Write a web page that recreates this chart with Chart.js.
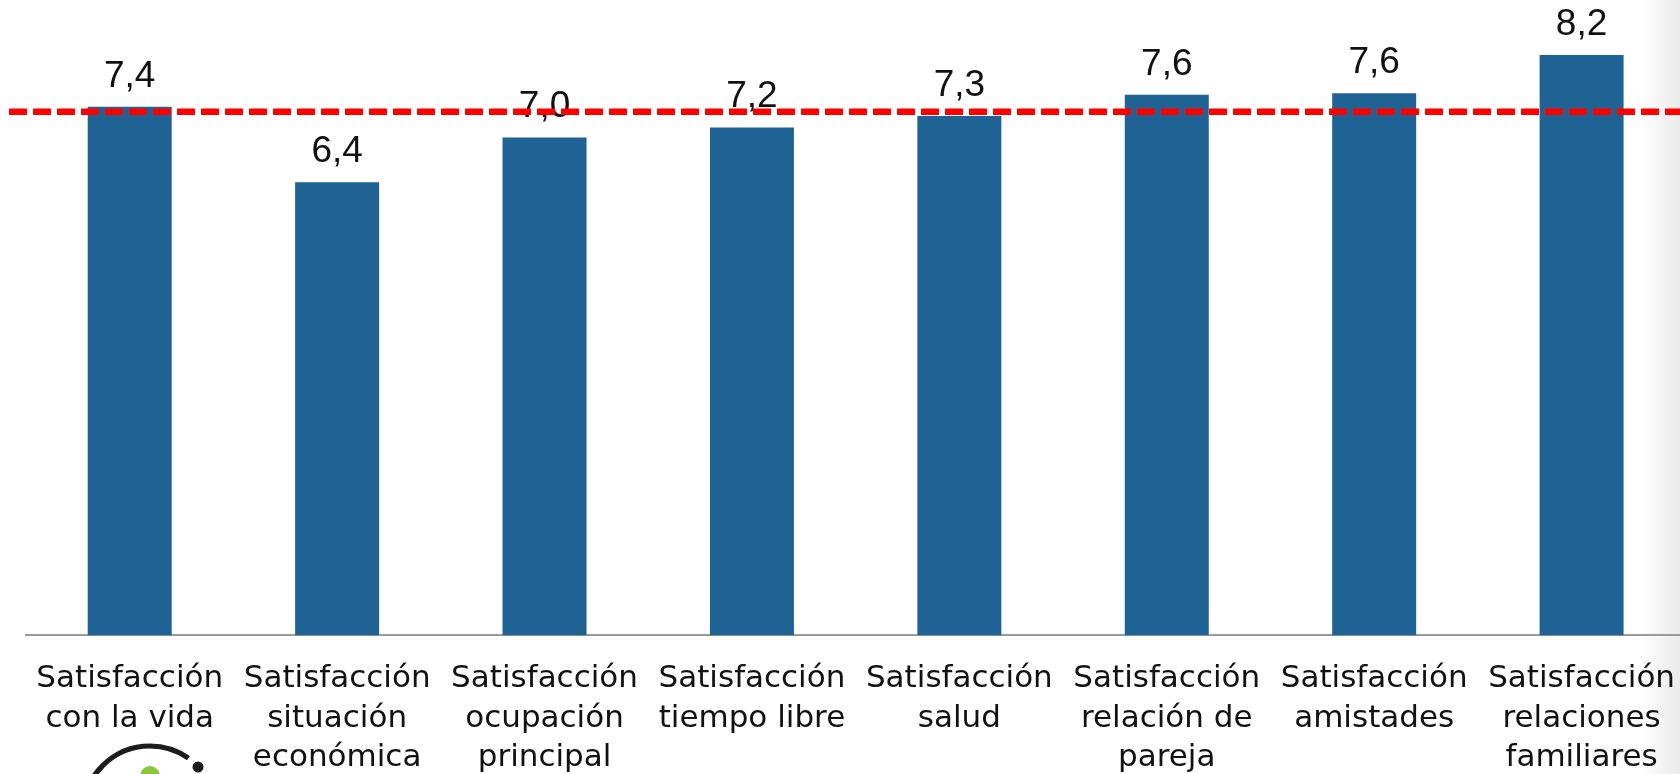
<!doctype html>
<html>

<head>
    <title>Satisfacción</title>
    <script src="https://cdn.jsdelivr.net/npm/chart.js"></script>
    <style>
        html, body { margin: 0; padding: 0; overflow: hidden; }
        body {
            width: 1680px; height: 774px;
            background: linear-gradient(to right, #ffffff 0, #ffffff 1638px, #ebebeb 1680px);
        }
        #caja { position: absolute; left: 0; top: -4px; width: 1699px; height: 806px; }
    </style>
</head>

<body>

    <div id="caja">
        <canvas id="grafico"></canvas>
    </div>

    <script>
        // datos
        var categorias = [
            ['Satisfacción', 'con la vida'],
            ['Satisfacción', 'situación', 'económica'],
            ['Satisfacción', 'ocupación', 'principal'],
            ['Satisfacción', 'tiempo libre'],
            ['Satisfacción', 'salud'],
            ['Satisfacción', 'relación de', 'pareja'],
            ['Satisfacción', 'amistades'],
            ['Satisfacción', 'relaciones', 'familiares']
        ];
        var valores = [7.44, 6.38, 7.01, 7.15, 7.31, 7.61, 7.63, 8.17];
        var media = 7.37;   // linea roja discontinua
        var ejeMin = 0;
        var ejeMax = 9;

        // etiquetas encima de cada barra (con coma decimal)
        var etiquetasValor = {
            id: 'etiquetasValor',
            afterDatasetsDraw(chart) {
                const ctx = chart.ctx;
                const barras = chart.getDatasetMeta(0).data;
                ctx.save();
                ctx.font = '37px "Liberation Sans"';
                ctx.fillStyle = '#111';
                ctx.textAlign = 'center';
                ctx.textBaseline = 'alphabetic';
                barras.forEach((b, i) => {
                    ctx.fillText(valores[i].toFixed(1).replace('.', ','), b.x, b.y - 20);
                });
                ctx.restore();
            }
        };

        // linea de la media y logo
        var lineaMedia = {
            id: 'lineaMedia',
            afterDraw(chart) {
                const ctx = chart.ctx;
                const y = chart.scales.y.getPixelForValue(media);
                ctx.save();
                ctx.strokeStyle = '#ff0000';
                ctx.lineWidth = 6.5;
                ctx.setLineDash([18, 6]);
                ctx.beginPath();
                ctx.moveTo(9, y);
                ctx.lineTo(chart.width, y);
                ctx.stroke();
                ctx.restore();

                // logo abajo a la izquierda (recortado)
                ctx.save();
                ctx.strokeStyle = '#1c1c1c';
                ctx.lineWidth = 5;
                ctx.beginPath();
                ctx.arc(150, 817, 67, Math.PI, 2 * Math.PI - 0.96);
                ctx.stroke();
                ctx.fillStyle = '#8cc63f';
                ctx.beginPath();
                ctx.arc(150, 780, 10, 0, 2 * Math.PI);
                ctx.fill();
                ctx.fillStyle = '#1c1c1c';
                ctx.beginPath();
                ctx.arc(198, 771, 5.5, 0, 2 * Math.PI);
                ctx.fill();
                ctx.restore();
            }
        };

        var grafico = new Chart(document.getElementById('grafico').getContext('2d'), {
            type: 'bar',
            data: {
                labels: categorias,
                datasets: [{
                    data: valores,
                    backgroundColor: '#1f6394',
                    borderWidth: 0,
                    barPercentage: 0.405,
                    categoryPercentage: 1
                }]
            },
            options: {
                responsive: true,
                maintainAspectRatio: false,
                animation: false,
                layout: { padding: { left: 26, right: 0, top: 0, bottom: 0 } },
                plugins: {
                    legend: { display: false },
                    tooltip: { enabled: false }
                },
                scales: {
                    x: {
                        grid: { display: false, drawTicks: false },
                        border: { display: true, color: '#9a9a9a', width: 2 },
                        ticks: {
                            color: '#111',
                            font: { family: '"DejaVu Sans"', size: 31, lineHeight: 1.275 },
                            padding: 24,
                            autoSkip: false,
                            maxRotation: 0,
                            minRotation: 0
                        }
                    },
                    y: {
                        display: false,
                        min: ejeMin,
                        max: ejeMax
                    }
                }
            },
            plugins: [etiquetasValor, lineaMedia]
        });
    </script>
</body>

</html>
